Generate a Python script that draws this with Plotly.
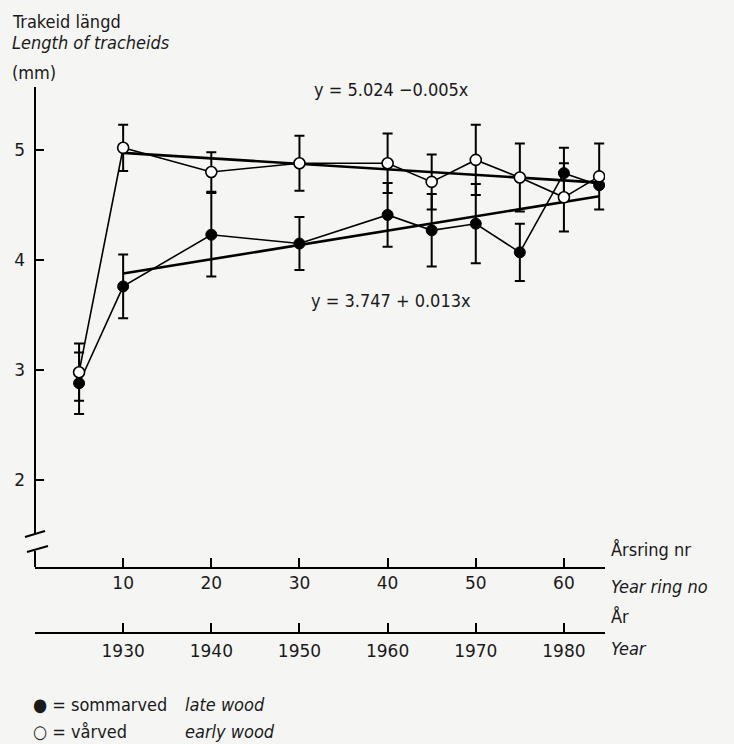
import plotly.graph_objects as go

# Year ring numbers of the sampled rings
ring_nr = [5, 10, 20, 30, 40, 45, 50, 55, 60, 64]

# Early wood (vårved) tracheid length, mm, with error half-widths
early_len = [2.98, 5.02, 4.80, 4.88, 4.88, 4.71, 4.91, 4.75, 4.57, 4.76]
early_err = [0.26, 0.21, 0.18, 0.25, 0.27, 0.25, 0.32, 0.31, 0.31, 0.30]

# Late wood (sommarved) tracheid length, mm, with error half-widths
late_len = [2.88, 3.76, 4.23, 4.15, 4.41, 4.27, 4.33, 4.07, 4.79, 4.68]
late_err = [0.28, 0.29, 0.38, 0.24, 0.29, 0.33, 0.36, 0.26, 0.23, 0.0]

# Fitted regression lines y = a + b*x over rings 10..64
early_fit = (5.024, -0.005)
late_fit = (3.747, 0.013)
fit_x = [10, 64]

# Axis ticks
ring_ticks = [10, 20, 30, 40, 50, 60]
year_labels = ["1930", "1940", "1950", "1960", "1970", "1980"]
y_ticks = [2, 3, 4, 5]

W, H = 734, 744
BG = "#f5f5f3"
FONT = "DejaVu Sans Condensed"
TICKFONT = "DejaVu Sans"
FS = 18
TXT = "#1a1a1a"


def px(x):
    return x / W


def py(y):
    return 1 - y / H


def tfont(family=FONT, size=FS):
    return dict(family=family, size=size, color=TXT, weight="normal",
                shadow="none")


fig = go.Figure()

# measured series: thin connecting line with error bars
for ys, es in ((late_len, late_err), (early_len, early_err)):
    fig.add_trace(go.Scatter(
        x=ring_nr, y=ys, mode="lines",
        line=dict(color="black", width=1.6),
        error_y=dict(type="data", array=es, visible=True,
                     color="black", thickness=2, width=5),
        hoverinfo="skip", showlegend=False))

# regression lines
for a, b in (early_fit, late_fit):
    fig.add_trace(go.Scatter(
        x=fit_x, y=[a + b * x for x in fit_x], mode="lines",
        line=dict(color="black", width=2.6),
        hoverinfo="skip", showlegend=False))

# markers on top
fig.add_trace(go.Scatter(
    x=ring_nr, y=late_len, mode="markers",
    marker=dict(symbol="circle", size=11, color="black",
                line=dict(color="black", width=1)),
    hoverinfo="skip", showlegend=False))
fig.add_trace(go.Scatter(
    x=ring_nr, y=early_len, mode="markers",
    marker=dict(symbol="circle", size=11, color="white",
                line=dict(color="black", width=1.6)),
    hoverinfo="skip", showlegend=False))

# invisible trace carrying the calendar-year axis
fig.add_trace(go.Scatter(
    x=ring_nr, y=early_len, xaxis="x2", yaxis="y", mode="markers",
    marker=dict(opacity=0), hoverinfo="skip", showlegend=False))

x_dom = [px(35), px(605)]
fig.update_layout(
    width=W, height=H,
    margin=dict(l=0, r=0, t=0, b=0),
    paper_bgcolor=BG, plot_bgcolor=BG,
    font=dict(family=FONT, size=FS, color=TXT),
    xaxis=dict(domain=x_dom, range=[0, 64.66], showgrid=False, zeroline=False,
               showline=True, linecolor="black", linewidth=2,
               ticks="inside", ticklen=9, tickwidth=1.5, tickcolor="black",
               tickvals=ring_ticks, ticklabelstandoff=0,
               tickfont=tfont(TICKFONT, 17)),
    xaxis2=dict(overlaying="x", anchor="free", position=py(633), side="bottom",
                range=[0, 64.66], showgrid=False, zeroline=False,
                showline=True, linecolor="black", linewidth=2,
                ticks="inside", ticklen=9, tickwidth=1.5, tickcolor="black",
                tickvals=ring_ticks, ticktext=year_labels, ticklabelstandoff=3,
                tickfont=tfont(TICKFONT, 17)),
    yaxis=dict(domain=[py(567), py(87)], range=[1.209, 5.573],
               showgrid=False, zeroline=False, showline=False,
               ticks="inside", ticklen=9, tickwidth=1.5, tickcolor="black",
               tickvals=y_ticks, ticklabelstandoff=9,
               tickfont=tfont(TICKFONT, 17)),
)

# broken y axis line with slash marks
line = dict(color="black", width=2)
fig.add_shape(type="line", xref="paper", yref="paper",
              x0=px(35), x1=px(35), y0=py(87), y1=py(534), line=line)
fig.add_shape(type="line", xref="paper", yref="paper",
              x0=px(35), x1=px(35), y0=py(551), y1=py(567), line=line)
fig.add_shape(type="line", xref="paper", yref="paper",
              x0=px(25), x1=px(45), y0=py(537), y1=py(531), line=line)
fig.add_shape(type="line", xref="paper", yref="paper",
              x0=px(27), x1=px(48), y0=py(552), y1=py(546), line=line)


def label(text, x, y, xanchor="left"):
    fig.add_annotation(text=text, x=px(x), y=py(y), xref="paper", yref="paper",
                       xanchor=xanchor, yanchor="middle", showarrow=False,
                       font=tfont())


# axis title (top left)
label("Trakeid längd", 10, 22)
label("<i>Length of tracheids</i>", 10, 43)
label("(mm)", 10, 72)

# regression equations
label("y = 5.024 −0.005x", 391, 89, xanchor="center")
label("y = 3.747 + 0.013x", 391, 300, xanchor="center")

# x axis titles
label("Årsring nr", 609, 549)
label("<i>Year ring no</i>", 609, 586)
label("År", 609, 616)
label("<i>Year</i>", 609, 648)

# key
label("● = sommarved", 31, 704)
label("<i>late wood</i>", 183, 704)
label("○ = vårved", 31, 731)
label("<i>early wood</i>", 183, 731)

fig.write_html("out.html")
